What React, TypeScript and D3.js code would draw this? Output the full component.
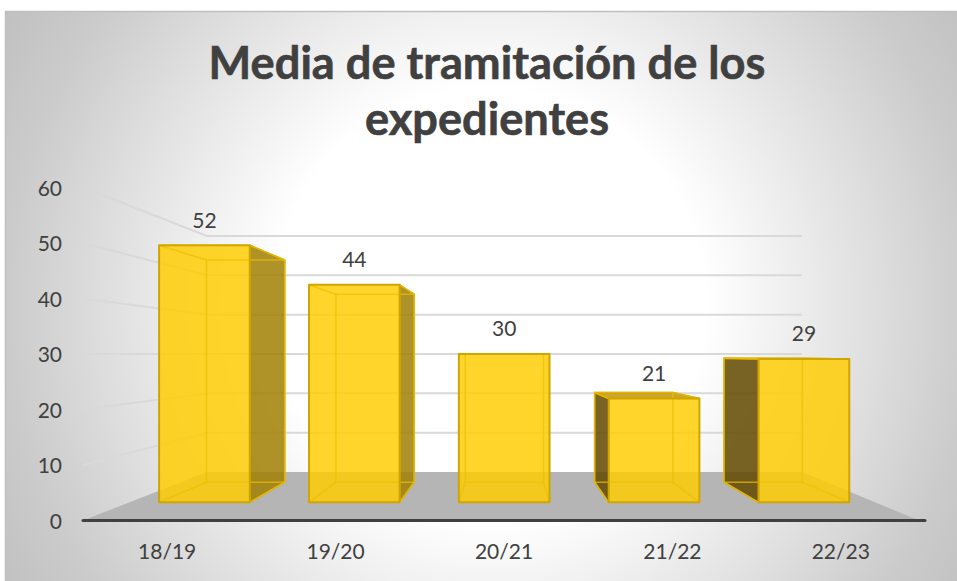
import { useRef, useEffect } from "react";
import * as d3 from "d3";

const titleLines = ["Media de tramitación de los", "expedientes"];
const categories = ["18/19", "19/20", "20/21", "21/22", "22/23"];
const values = [52, 44, 30, 21, 29];
const yTicks = [0, 10, 20, 30, 40, 50, 60];

const WIDTH = 957;
const HEIGHT = 581;
const FONT = "Lato, 'Open Sans', sans-serif";
const TEXT_COLOR = "#404040";

// the chart is a fake 3d box: depth 0 is the front edge of the floor, depth 1 the back wall
const floorY = d3.scaleLinear().domain([0, 1]).range([520.5, 472]);
const unitPx = d3.scaleLinear().domain([0, 1]).range([333 / 60, 236 / 60]);
const leftX = d3.scaleLinear().domain([0, 1]).range([83, 207]);
const rightX = d3.scaleLinear().domain([0, 1]).range([925, 802]);

const FRONT_DEPTH = 0.375;
const BACK_DEPTH = 0.79;

const px = (frac: number, depth: number) =>
  leftX(depth) + frac * (rightX(depth) - leftX(depth));
const py = (value: number, depth: number) =>
  floorY(depth) - value * unitPx(depth);

const App = () => {
  const svgRef = useRef<SVGSVGElement>(null);

  useEffect(() => {
    const svg = d3.select(svgRef.current);
    svg.selectAll("*").remove();

    const grad = svg
      .append("defs")
      .append("radialGradient")
      .attr("id", "bg")
      .attr("gradientUnits", "userSpaceOnUse")
      .attr("cx", 490)
      .attr("cy", 305)
      .attr("r", 570);
    grad.append("stop").attr("offset", 0.38).attr("stop-color", "#ffffff");
    grad.append("stop").attr("offset", 0.85).attr("stop-color", "#cbcbcb");
    grad.append("stop").attr("offset", 1).attr("stop-color", "#c0c0c0");

    svg
      .append("rect")
      .attr("x", 5)
      .attr("y", 11)
      .attr("width", WIDTH - 5)
      .attr("height", HEIGHT - 11)
      .attr("fill", "url(#bg)");
    svg
      .append("path")
      .attr("d", `M5.5,${HEIGHT}V11.5H${WIDTH}`)
      .attr("fill", "none")
      .attr("stroke", "#bfbfbf")
      .attr("stroke-width", 1.5);

    // gridlines on the left wall and the back wall
    const line = d3.line();
    const grid = svg.append("g").attr("fill", "none").attr("stroke", "#d9d9d9").attr("stroke-width", 2);
    yTicks
      .filter((t) => t > 0)
      .forEach((t) => {
        grid
          .append("path")
          .attr("d", line([
            [leftX(0), py(t, 0)],
            [leftX(1), py(t, 1)],
            [rightX(1), py(t, 1)],
          ]));
      });

    // floor
    svg
      .append("path")
      .attr("d", line([
        [leftX(0), floorY(0)],
        [leftX(1), floorY(1)],
        [rightX(1), floorY(1)],
        [rightX(0) - 6, floorY(0)],
      ]) + "Z")
      .attr("fill", "#b5b5b5");

    const band = d3
      .scaleBand()
      .domain(categories)
      .range([0, 1])
      .paddingInner(0.395)
      .paddingOuter(0.1975);

    const edge = "#cfa500";
    const inner = "rgba(238,190,0,0.7)";

    categories.forEach((c, i) => {
      const v = values[i];
      const f0 = band(c) as number;
      const f1 = f0 + band.bandwidth();
      const fl = px(f0, FRONT_DEPTH);
      const fr = px(f1, FRONT_DEPTH);
      const bl = px(f0, BACK_DEPTH);
      const br = px(f1, BACK_DEPTH);
      const ft = py(v, FRONT_DEPTH);
      const fb = py(0, FRONT_DEPTH);
      const bt = py(v, BACK_DEPTH);
      const bb = py(0, BACK_DEPTH);
      const g = svg.append("g").attr("stroke-linejoin", "round");

      // the outer faces only show when the box leans past its front rectangle
      if (br > fr) {
        g.append("path")
          .attr("d", line([[fr, ft], [br, bt], [br, bb], [fr, fb]]) + "Z")
          .attr("fill", "rgba(162,128,2,0.85)")
          .attr("stroke", edge)
          .attr("stroke-width", 1.5);
      }
      if (bl < fl) {
        g.append("path")
          .attr("d", line([[fl, ft], [bl, bt], [bl, bb], [fl, fb]]) + "Z")
          .attr("fill", "rgba(98,73,0,0.85)")
          .attr("stroke", edge)
          .attr("stroke-width", 1.5);
      }
      if (bt < ft) {
        g.append("path")
          .attr("d", line([[fl, ft], [bl, bt], [br, bt], [fr, ft]]) + "Z")
          .attr("fill", "rgba(190,150,10,0.85)")
          .attr("stroke", edge)
          .attr("stroke-width", 1.5);
      }

      g.append("rect")
        .attr("x", fl)
        .attr("y", ft)
        .attr("width", fr - fl)
        .attr("height", fb - ft)
        .attr("fill", "rgba(255,205,0,0.83)");

      // see-through back edges
      g.append("path")
        .attr("d", `M${bl},${bt}H${br}V${bb}H${bl}Z`)
        .attr("fill", "none")
        .attr("stroke", inner)
        .attr("stroke-width", 1.5);
      [
        [[fl, ft], [bl, bt]],
        [[fl, fb], [bl, bb]],
        [[fr, fb], [br, bb]],
        [[fr, ft], [br, bt]],
      ].forEach((seg) => {
        g.append("path")
          .attr("d", line(seg as [number, number][]))
          .attr("fill", "none")
          .attr("stroke", inner)
          .attr("stroke-width", 1.5);
      });

      g.append("rect")
        .attr("x", fl)
        .attr("y", ft)
        .attr("width", fr - fl)
        .attr("height", fb - ft)
        .attr("fill", "none")
        .attr("stroke", edge)
        .attr("stroke-width", 2);

      svg
        .append("text")
        .attr("x", (fl + fr) / 2)
        .attr("y", ft - 25)
        .attr("dy", "0.35em")
        .attr("text-anchor", "middle")
        .attr("font-family", FONT)
        .attr("font-size", 21)
        .attr("fill", TEXT_COLOR)
        .text(v);
    });

    // x axis line
    svg
      .append("path")
      .attr("d", line([[leftX(0), floorY(0)], [rightX(0), floorY(0)]]))
      .attr("stroke", "#404040")
      .attr("stroke-width", 3)
      .attr("stroke-linecap", "round");

    const xLabels = d3.scaleBand().domain(categories).range([leftX(0), rightX(0)]);
    svg
      .selectAll(".x-label")
      .data(categories)
      .enter()
      .append("text")
      .attr("class", "x-label")
      .attr("x", (d) => (xLabels(d) as number) + xLabels.bandwidth() / 2)
      .attr("y", 552)
      .attr("dy", "0.35em")
      .attr("text-anchor", "middle")
      .attr("font-family", FONT)
      .attr("font-size", 21)
      .attr("fill", TEXT_COLOR)
      .text((d) => d);

    svg
      .selectAll(".y-label")
      .data(yTicks)
      .enter()
      .append("text")
      .attr("class", "y-label")
      .attr("x", 62)
      .attr("y", (d) => py(d, 0) + 1)
      .attr("dy", "0.35em")
      .attr("text-anchor", "end")
      .attr("font-family", FONT)
      .attr("font-size", 21)
      .attr("fill", TEXT_COLOR)
      .text((d) => d);

    svg
      .selectAll(".title")
      .data(titleLines)
      .enter()
      .append("text")
      .attr("class", "title")
      .attr("x", 487)
      .attr("y", (d, i) => 79 + i * 56)
      .attr("text-anchor", "middle")
      .attr("font-family", FONT)
      .attr("font-weight", 700)
      .attr("font-size", 45.2)
      .attr("stroke", TEXT_COLOR)
      .attr("stroke-width", 0.6)
      .attr("fill", TEXT_COLOR)
      .text((d) => d);
  }, []);

  return (
    <svg
      ref={svgRef}
      width={WIDTH}
      height={HEIGHT}
      style={{ position: "absolute", left: 0, top: 0, background: "#fff" }}
    />
  );
};

export default App;
